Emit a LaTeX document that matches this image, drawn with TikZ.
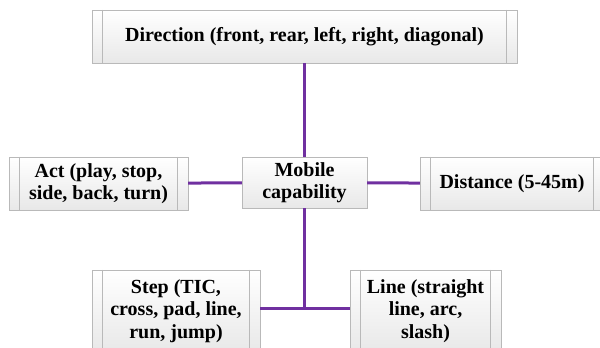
\documentclass[tikz,border=0pt]{standalone}
\usepackage{fontspec}
\setmainfont{Liberation Serif}
\usetikzlibrary{positioning, calc, shadows}
\definecolor{linkpurple}{RGB}{112, 48, 160}
\definecolor{boxedge}{RGB}{185, 185, 185}

\begin{document}
\begin{tikzpicture}[
        x=1pt, y=1pt,
        box/.style={draw=boxedge, top color=white, bottom color=black!9,
                    align=center, font=\fontsize{20}{22.5}\selectfont\bfseries,
                    inner sep=0pt, minimum height=53pt,
                    drop shadow={shadow xshift=1pt, shadow yshift=-1pt, opacity=0.25}},
        proc/.style={box,
                     path picture={
                        \draw[boxedge] ([xshift=10.5pt]path picture bounding box.north west)
                            -- ([xshift=10.5pt]path picture bounding box.south west);
                        \draw[boxedge] ([xshift=-10.5pt]path picture bounding box.north east)
                            -- ([xshift=-10.5pt]path picture bounding box.south east);
                     }},
        link/.style={linkpurple, line width=3pt},
    ]
        \useasboundingbox (0,0) rectangle (600,348);

        \node[proc, minimum width=425pt]  (dir)  at (304.5,311.5) {Direction (front, rear, left, right, diagonal)};
        \node[box,  minimum width=125pt, minimum height=51pt] (mob) at (304.5,165.5) {Mobile\\capability};
        \node[proc, minimum width=179pt]  (act)  at (98.5,164.5)  {Act (play, stop,\\side, back, turn)};
        \node[proc, minimum width=184pt]  (dist) at (512,164.5)   {Distance (5-45m)};
        \node[proc, minimum width=168pt, minimum height=82pt] (step) at (176,37)   {Step (TIC,\\cross, pad, line,\\run, jump)};
        \node[proc, minimum width=151pt, minimum height=82pt] (line) at (425.5,37) {Line (straight\\line, arc,\\slash)};

        \coordinate (jn) at (mob |- 0,39);

        \draw[link] (dir) -- (mob);
        \draw[link] (act) -- (mob);
        \draw[link] (mob) -- (dist);
        \draw[link] (mob) -- (jn);
        \draw[link] (step.east |- jn) -- (line.west |- jn);
    \end{tikzpicture}
\end{document}
